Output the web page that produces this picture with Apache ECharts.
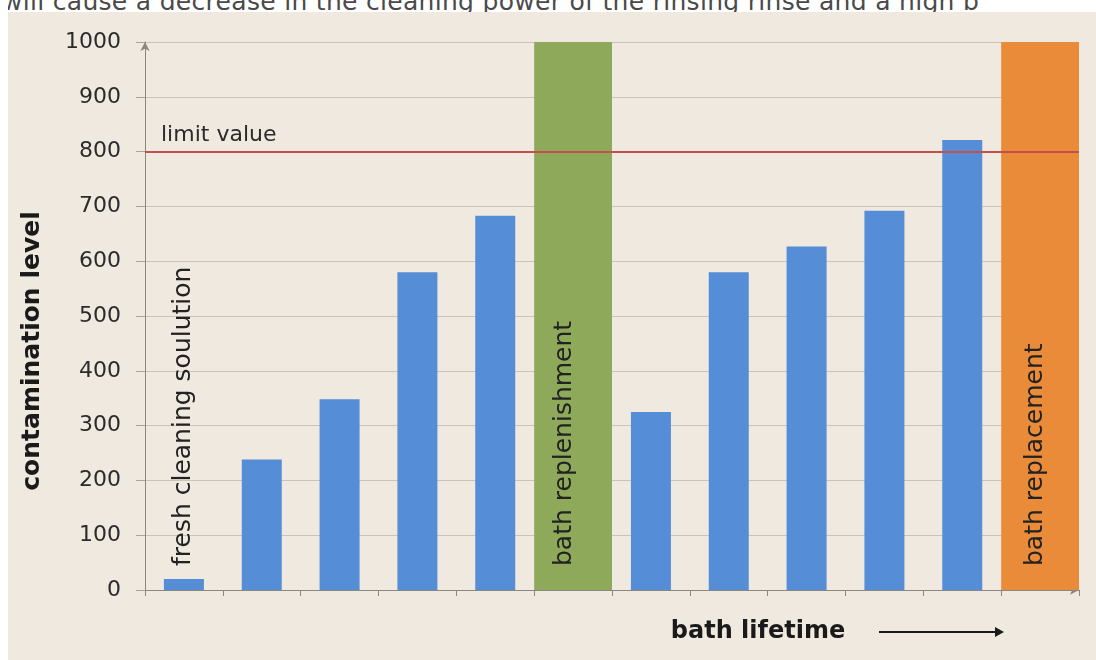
<!DOCTYPE html>
<html>
<head>
<meta charset="utf-8">
<script src="https://cdn.jsdelivr.net/npm/echarts@6/dist/echarts.min.js"></script>
<style>
  html, body { margin: 0; padding: 0; background: #f0e9df; width: 1096px; height: 660px; overflow: hidden; }
  #topline { position: absolute; left: 0; top: 0; width: 1096px; height: 12px; overflow: hidden; background: #fff; }
  #topline span { position: absolute; left: 2px; top: -13px; font-family: "DejaVu Sans", sans-serif; font-size: 25px; color: #4a4a4a; white-space: nowrap; letter-spacing: 0.3px; }
  #leftband { position: absolute; left: 0; top: 0; width: 8px; height: 660px; background: #fff; }
  #chart { position: absolute; left: 8px; top: 12px; width: 1088px; height: 648px; background: #f0e9df; }
</style>
</head>
<body>
<div id="topline"><span>will cause a decrease in the cleaning power of the rinsing rinse and a high b</span></div>
<div id="leftband"></div>
<div id="chart"></div>
<script>
// ---- data ----
const categories = ['1', '2', '3', '4', '5', '6', '7', '8', '9', '10', '11', '12'];
const contamination = [20, 238, 348, 580, 683, null, 325, 580, 627, 692, 821, null];
const contaminationLabels = ['fresh cleaning soulution', '', '', '', '', '', '', '', '', '', '', ''];
const bathEvents = [null, null, null, null, null, 1000, null, null, null, null, null, 1000];
const bathEventLabels = ['', '', '', '', '', 'bath replenishment', '', '', '', '', '', 'bath replacement'];
const bathEventKinds = ['', '', '', '', '', 'replenish', '', '', '', '', '', 'replace'];
const yTicks = { min: 0, max: 1000, interval: 100 };
const limitValue = 800;
const limitLabel = 'limit value';
const yAxisTitle = 'contamination level';
const xAxisTitle = 'bath lifetime';

const FONT = '"DejaVu Sans", sans-serif';
const kindStyles = {
  replenish: { color: '#8fa95a', labelOffset: [0, -9] },
  replace: { color: '#ea8b3a', labelOffset: [0, -5] }
};

const inBarLabel = {
  show: true,
  position: 'insideBottom',
  rotate: 90,
  align: 'left',
  verticalAlign: 'middle',
  distance: 24,
  fontFamily: FONT,
  fontSize: 25,
  color: '#222'
};

const blueData = contamination.map((v, i) => {
  const item = { value: v };
  if (contaminationLabels[i]) {
    item.label = Object.assign({}, inBarLabel, { formatter: contaminationLabels[i] });
  }
  return item;
});

const eventData = bathEvents.map((v, i) => {
  const item = { value: v };
  if (v !== null) {
    const ks = kindStyles[bathEventKinds[i]];
    item.itemStyle = { color: ks.color };
    item.label = Object.assign({}, inBarLabel, { formatter: bathEventLabels[i], offset: ks.labelOffset });
  }
  return item;
});

const chart = echarts.init(document.getElementById('chart'), null, { renderer: 'canvas' });

chart.setOption({
  backgroundColor: '#f0e9df',
  animation: false,
  textStyle: { fontFamily: FONT },
  grid: { left: 137, right: 17, top: 30, bottom: 70, containLabel: false },
  xAxis: [
    {
      type: 'category',
      data: categories,
      boundaryGap: true,
      axisLine: { show: true, lineStyle: { color: '#8a8680', width: 1 }, symbol: ['none', 'arrow'], symbolSize: [7, 9] },
      axisTick: { show: true, length: 6, lineStyle: { color: '#8a8680' } },
      axisLabel: { show: false },
      splitLine: { show: false },
      name: xAxisTitle,
      nameLocation: 'middle',
      nameGap: 30,
      nameTextStyle: { fontFamily: FONT, fontSize: 24, fontWeight: 'bold', color: '#1a1a1a', padding: [0, 0, 0, 292] }
    },
    {
      type: 'category',
      data: categories,
      boundaryGap: true,
      show: false
    }
  ],
  yAxis: {
    type: 'value',
    min: yTicks.min,
    max: yTicks.max,
    interval: yTicks.interval,
    axisLine: { show: true, lineStyle: { color: '#8a8680', width: 1 }, symbol: ['none', 'arrow'], symbolSize: [7, 9] },
    axisTick: { show: true, length: 9, lineStyle: { color: '#a9a49c' } },
    axisLabel: { fontFamily: FONT, fontSize: 22, color: '#2b2b2b', margin: 24, formatter: (v) => String(v) },
    splitLine: { show: true, lineStyle: { color: '#c9c3b9', width: 1 } },
    name: yAxisTitle,
    nameLocation: 'middle',
    nameRotate: 90,
    nameGap: 100,
    nameTextStyle: { fontFamily: FONT, fontSize: 25, fontWeight: 'bold', color: '#1a1a1a', padding: [0, 70, 0, 0] }
  },
  series: [
    {
      type: 'bar',
      name: 'contamination',
      xAxisIndex: 0,
      barWidth: 40,
      itemStyle: { color: '#558ed6' },
      data: blueData
    },
    {
      type: 'bar',
      name: 'bath events',
      xAxisIndex: 1,
      barWidth: '100%',
      data: eventData
    },
    {
      type: 'line',
      name: 'limit',
      xAxisIndex: 0,
      data: [],
      z: 10,
      markLine: {
        silent: true,
        symbol: ['none', 'none'],
        lineStyle: { color: '#c4504e', width: 2, type: 'solid' },
        label: {
          show: true,
          position: 'insideStartTop',
          formatter: limitLabel,
          fontFamily: FONT,
          fontSize: 22,
          color: '#2b2b2b',
          distance: [16, 5]
        },
        data: [{ yAxis: limitValue }]
      }
    }
  ],
  graphic: [
    {
      type: 'group',
      silent: true,
      children: [
        { type: 'line', shape: { x1: 871, y1: 620, x2: 988, y2: 620 }, style: { stroke: '#1a1a1a', lineWidth: 2 } },
        { type: 'polygon', shape: { points: [[987, 615], [996, 620], [987, 625]] }, style: { fill: '#1a1a1a' } }
      ]
    }
  ]
});
</script>
</body>
</html>
